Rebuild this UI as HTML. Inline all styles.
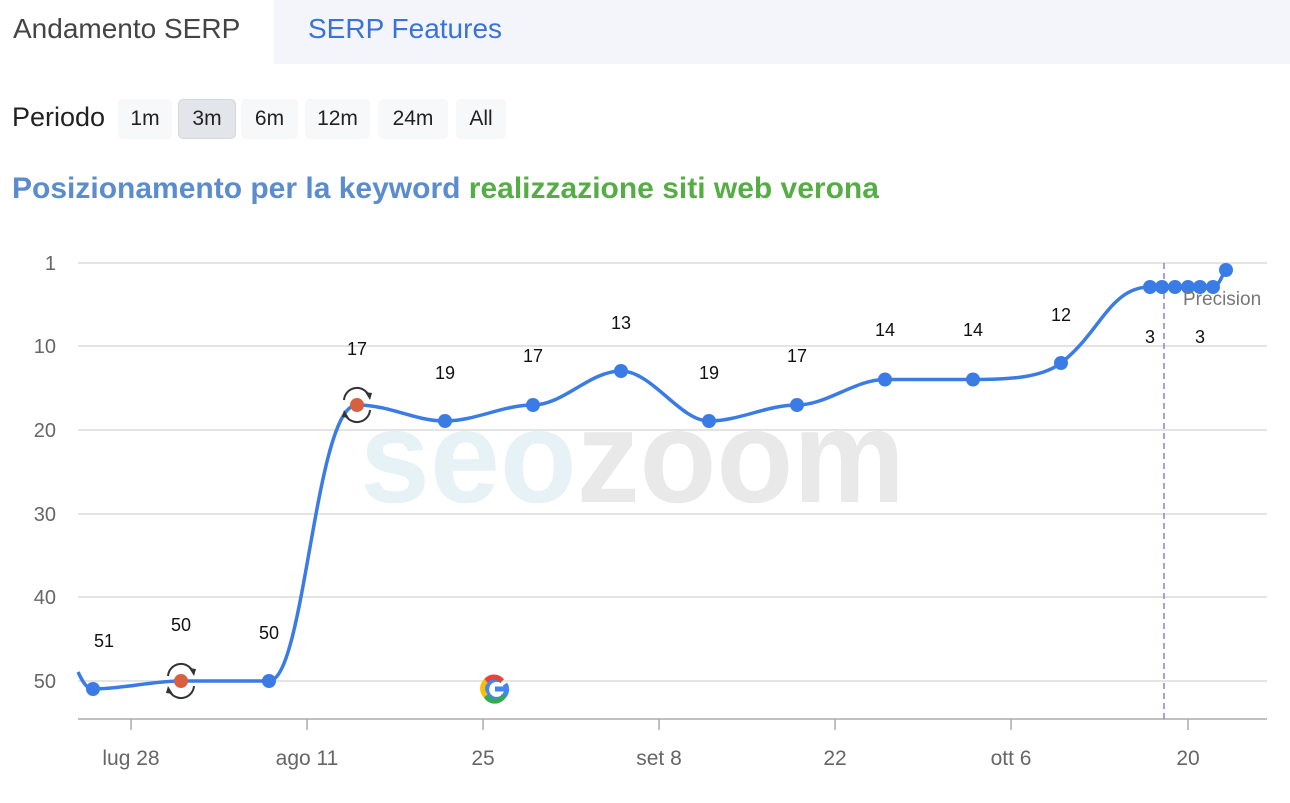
<!DOCTYPE html>
<html><head><meta charset="utf-8"><style>
body{margin:0;width:1290px;height:803px;background:#fff;font-family:"Liberation Sans",sans-serif;overflow:hidden;position:relative}
.tabs{position:absolute;left:0;top:0;width:1290px;height:64px;background:#f4f5fa}
.tab1{position:absolute;left:0;top:0;width:274px;height:64px;background:#fff;font-size:28px;color:#444;line-height:58px;text-indent:13px}
.tab2{position:absolute;left:308px;top:0;font-size:28px;color:#3a73d8;line-height:58px}
.per{position:absolute;left:12px;top:102px;font-size:27px;color:#222}
.btn{position:absolute;top:99px;height:40px;border-radius:5px;background:#f7f8fa;font-size:21px;color:#222;line-height:40px;text-align:center}
.title{position:absolute;left:12px;top:172px;font-size:30px;font-weight:bold;color:#5b8cce}
</style></head><body>
<div class="tabs"><div class="tab1">Andamento SERP</div><div class="tab2">SERP Features</div></div>
<div class="per">Periodo</div>
<div class="btn" style="left:118px;width:54px">1m</div>
<div class="btn" style="left:178px;width:56px;background:#e2e5ea;border:1px solid #d4d8de;height:38px;line-height:38px">3m</div>
<div class="btn" style="left:241px;width:57px">6m</div>
<div class="btn" style="left:305px;width:65px">12m</div>
<div class="btn" style="left:378px;width:70px">24m</div>
<div class="btn" style="left:456px;width:50px">All</div>
<div class="title">Posizionamento per la keyword <span style="color:#56ad45">realizzazione siti web verona</span></div>
<svg width="1290" height="803" style="position:absolute;left:0;top:0" font-family="Liberation Sans, sans-serif">
<text x="360" y="502" font-size="132" font-weight="bold" fill="#e6f2f5" textLength="545" lengthAdjust="spacingAndGlyphs">seo<tspan fill="#e9e9ea">zoom</tspan></text>
<g stroke="#dcdcdc" stroke-width="1.5">
<line x1="78" x2="1267" y1="263" y2="263"/><line x1="78" x2="1267" y1="346" y2="346"/><line x1="78" x2="1267" y1="430" y2="430"/><line x1="78" x2="1267" y1="514" y2="514"/><line x1="78" x2="1267" y1="597" y2="597"/><line x1="78" x2="1267" y1="681" y2="681"/>
</g>
<line x1="78" x2="1267" y1="719" y2="719" stroke="#aaa" stroke-width="1.5"/>
<g stroke="#aaa" stroke-width="1.5"><line x1="131" x2="131" y1="719" y2="730"/><line x1="307" x2="307" y1="719" y2="730"/><line x1="483" x2="483" y1="719" y2="730"/><line x1="659" x2="659" y1="719" y2="730"/><line x1="835" x2="835" y1="719" y2="730"/><line x1="1011" x2="1011" y1="719" y2="730"/><line x1="1188" x2="1188" y1="719" y2="730"/></g>
<g font-size="20" fill="#666" text-anchor="end"><text x="56" y="270">1</text><text x="56" y="353">10</text><text x="56" y="437">20</text><text x="56" y="521">30</text><text x="56" y="604">40</text><text x="56" y="688">50</text></g>
<g font-size="21" fill="#666" text-anchor="middle"><text x="131" y="765">lug 28</text><text x="307" y="765">ago 11</text><text x="483" y="765">25</text><text x="659" y="765">set 8</text><text x="835" y="765">22</text><text x="1011" y="765">ott 6</text><text x="1188" y="765">20</text></g>
<line x1="1164" x2="1164" y1="263" y2="719" stroke="#8a80d8" stroke-width="1.5" stroke-dasharray="6,4"/>
<path fill="none" stroke="#3a7be6" stroke-width="3.5" d="M78,672 C84,685 88,689 93,689 C122,689 152,681 181,681 L269,681 C305,681 315,405 357,405 C390,405 415,421 445,421 C475,421 503,405 533,405 C563,405 590,371 621,371 C652,371 680,421 709,421 C739,421 767,405 797,405 C827,405 855,379.5 885,379.5 L973,379.5 C1003,379.5 1040,379 1061,363 C1100,333 1110,287 1150,287 L1213,287 C1218,287 1220,280 1225,271"/>
<g fill="#3a7be6"><circle cx="93" cy="689" r="7"/><circle cx="269" cy="681" r="7"/><circle cx="445" cy="421" r="7"/><circle cx="533" cy="405" r="7"/><circle cx="621" cy="371" r="7"/><circle cx="709" cy="421" r="7"/><circle cx="797" cy="405" r="7"/><circle cx="885" cy="379.5" r="7"/><circle cx="973" cy="379.5" r="7"/><circle cx="1061" cy="363" r="7"/><circle cx="1150" cy="287" r="7"/><circle cx="1162" cy="287" r="7"/><circle cx="1175" cy="287" r="7"/><circle cx="1188" cy="287" r="7"/><circle cx="1200" cy="287" r="7"/><circle cx="1213" cy="287" r="7"/><circle cx="1226" cy="270" r="7"/></g>
<g fill="none" stroke="#333" stroke-width="2"><path d="M168,676 A13,13 0 0 1 193,672"/><path d="M194,686 A13,13 0 0 1 169,690"/><path d="M344,400 A13,13 0 0 1 369,396"/><path d="M370,410 A13,13 0 0 1 345,414"/></g>
<g fill="#333"><path d="M189,668 l7,1 -2,7z"/><path d="M173,694 l-7,-1 2,-7z"/><path d="M365,392 l7,1 -2,7z"/><path d="M349,418 l-7,-1 2,-7z"/></g>
<circle cx="181" cy="681" r="7" fill="#d9603f"/><circle cx="357" cy="405" r="7" fill="#d9603f"/>
<g font-size="18" fill="#111" text-anchor="middle"><text x="104" y="647">51</text><text x="181" y="631">50</text><text x="269" y="639">50</text><text x="357" y="355">17</text><text x="445" y="379">19</text><text x="533" y="362">17</text><text x="621" y="329">13</text><text x="709" y="379">19</text><text x="797" y="362">17</text><text x="885" y="336">14</text><text x="973" y="336">14</text><text x="1061" y="321">12</text><text x="1150" y="343">3</text><text x="1200" y="343">3</text></g>
<text x="1183" y="305" font-size="19" fill="#777">Precision</text>
<rect x="1267" y="280" width="23" height="40" fill="#fff"/>
<g fill="none" stroke-width="5"><path d="M505,684 A10,10 0 1 1 502,681" stroke="#4285f4"/><path d="M486,681 A10,10 0 0 1 502,681" stroke="#ea4335"/><path d="M486,681 A10,10 0 0 0 486,696" stroke="#fbbc05"/><path d="M486,696 A10,10 0 0 0 504,695" stroke="#34a853"/><line x1="495" y1="689" x2="506" y2="689" stroke="#4285f4"/></g>
</svg>
</body></html>
